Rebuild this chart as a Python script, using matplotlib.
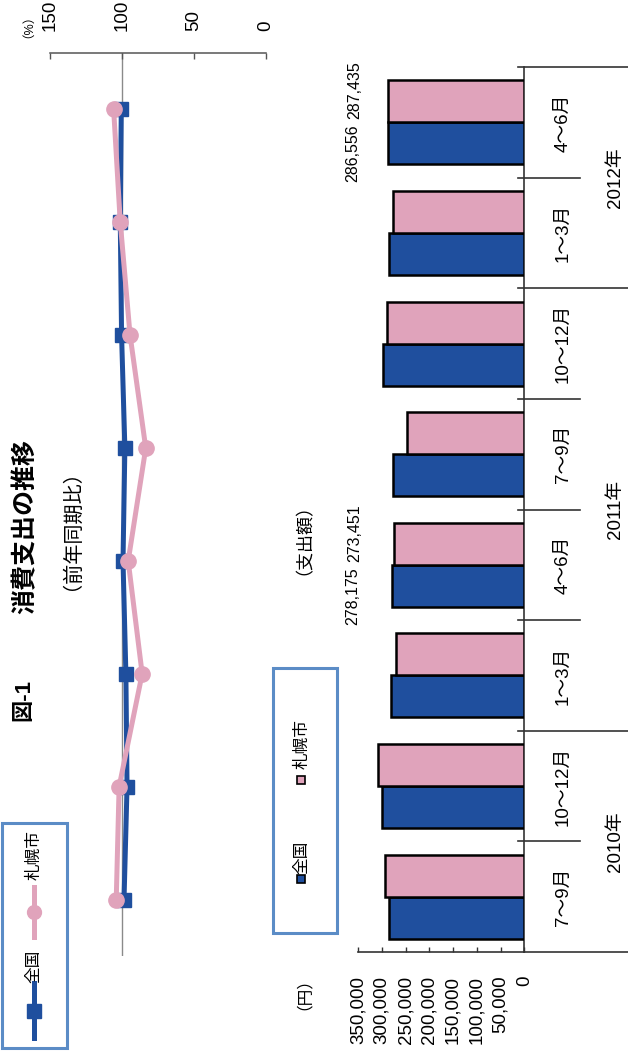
import matplotlib
matplotlib.use('Agg')
import matplotlib.pyplot as plt
import matplotlib.transforms as mtransforms
from matplotlib.lines import Line2D
from matplotlib.patches import Rectangle

plt.rcParams['font.family'] = ['Liberation Sans', 'Noto Sans CJK JP']

# ---------------- data ----------------
periods = ['7〜9月', '10〜12月', '1〜3月', '4〜6月', '7〜9月', '10〜12月', '1〜3月', '4〜6月']
years = ['2010年', '2010年', '2011年', '2011年', '2011年', '2011年', '2012年', '2012年']
nation_yoy = [98.6, 96.5, 97.3, 99.3, 98.0, 100.3, 101.2, 100.5]
sapporo_yoy = [104.0, 102.0, 86.0, 95.7, 83.5, 94.4, 101.2, 105.8]
nation_spend = [283800, 299100, 280200, 278175, 276000, 296400, 284400, 286556]
sapporo_spend = [292800, 307500, 269700, 273451, 246600, 289200, 276000, 287435]
annotated = [3, 7]
yoy_ticks = [0, 50, 100, 150]
spend_ticks = [0, 50000, 100000, 150000, 200000, 250000, 300000, 350000]
series_names = ['全国', '札幌市']

BLUE = '#1f4f9e'
PINK = '#e0a3bb'
LEG_EDGE = '#5b8cc6'

W, H = 628, 1053
fig = plt.figure(figsize=(W / 100, H / 100), dpi=100)
fig.patch.set_facecolor('white')


def rect(x0, y0, x1, y1):
    return [x0 / W, 1 - y1 / H, (x1 - x0) / W, (y1 - y0) / H]


n = len(periods)
idx = list(range(n))

# ---------------- line chart (year-on-year %) ----------------
axl = fig.add_axes(rect(50, 53, 266, 956))
axl.set_xlim(150, 0)
axl.set_ylim(-0.5, n - 0.5)
axl.axvline(100, color='#8a8a8a', lw=1.0, zorder=1)
axl.plot(nation_yoy, idx, color=BLUE, lw=3.6, marker='s', ms=9.5,
         mfc=BLUE, mec=BLUE, zorder=3, solid_capstyle='butt')
axl.plot(sapporo_yoy, idx, color=PINK, lw=3.6, marker='o', ms=11,
         mfc=PINK, mec=PINK, zorder=4)
for s in ['left', 'right', 'bottom']:
    axl.spines[s].set_visible(False)
axl.spines['top'].set_color('#555555')
axl.spines['top'].set_linewidth(1.1)
axl.set_xticks(yoy_ticks)
axl.set_xticklabels([str(t) for t in yoy_ticks])
axl.xaxis.set_ticks_position('top')
axl.xaxis.set_label_position('top')
axl.tick_params(axis='x', direction='in', length=4.3, width=1.0, color='#555555',
                pad=15.5, labelsize=13.5, labelrotation=90, top=True, bottom=False,
                labeltop=True, labelbottom=False)
axl.set_yticks([])
axl.patch.set_alpha(0)

# ---------------- bar chart (spending, yen) ----------------
axb = fig.add_axes(rect(358, 67, 524.3, 952))
axb.set_xlim(350000, 0)
axb.set_ylim(-0.5, n - 0.5)
bh = 0.38
axb.barh([i - bh / 2 for i in idx], nation_spend, height=bh, color=BLUE,
         edgecolor='black', linewidth=1.8, zorder=3)
axb.barh([i + bh / 2 for i in idx], sapporo_spend, height=bh, color=PINK,
         edgecolor='black', linewidth=1.8, zorder=3)
for s in ['left', 'top']:
    axb.spines[s].set_visible(False)
for s in ['right', 'bottom']:
    axb.spines[s].set_color('#333333')
    axb.spines[s].set_linewidth(1.2)
axb.set_xticks(spend_ticks)
axb.set_xticklabels([f'{t:,}' for t in spend_ticks])
axb.tick_params(axis='x', direction='in', length=3.6, width=1.0, color='#333333',
                pad=17, labelsize=13.5, labelrotation=90)
axb.set_yticks([])
axb.patch.set_alpha(0)

trans = mtransforms.blended_transform_factory(axb.transAxes, axb.transData)
fx = lambda px: (px - 358) / (524.3 - 358)

# category table lines
axb.plot([1, fx(628)], [-0.5, -0.5], transform=trans, color='#333333', lw=1.2, clip_on=False)
axb.plot([fx(518), fx(628)], [n - 0.5, n - 0.5], transform=trans, color='#333333', lw=1.2,
         clip_on=False)
for i in range(n - 1):
    b = i + 0.5
    x_end = fx(628) if years[i] != years[i + 1] else fx(580)
    axb.plot([fx(518), x_end], [b, b], transform=trans, color='#333333', lw=1.2, clip_on=False)

# category labels
for i, p in enumerate(periods):
    axb.text(fx(563), i, p, transform=trans, rotation=90, ha='center', va='center',
             fontsize=13.5)
seen = []
for y in years:
    if y not in seen:
        seen.append(y)
for y in seen:
    pos = [i for i, yy in enumerate(years) if yy == y]
    axb.text(fx(615), sum(pos) / len(pos), y, transform=trans, rotation=90,
             ha='center', va='center', fontsize=13.5)

# value annotations
for i in annotated:
    axb.text(fx(353), i - 0.28, f'{nation_spend[i]:,}', transform=trans, rotation=90,
             ha='center', va='center', fontsize=11.5)
    axb.text(fx(355), i + 0.29, f'{sapporo_spend[i]:,}', transform=trans, rotation=90,
             ha='center', va='center', fontsize=11.5)

# ---------------- overlay for titles and legends ----------------
ov = fig.add_axes([0, 0, 1, 1])
ov.set_xlim(0, W)
ov.set_ylim(H, 0)
ov.axis('off')
ov.patch.set_alpha(0)

ov.text(24, 700, '図-1', rotation=90, ha='center', va='center', fontsize=16, fontweight='bold')
ov.text(25, 527, '消費支出の推移', rotation=90, ha='center', va='center', fontsize=18,
        fontweight='bold')
ov.text(61, 520, '（前年同期比）', rotation=90, ha='center', va='center', fontsize=14.5)
ov.text(22, 20, '（%）', rotation=90, ha='center', va='center', fontsize=9)
ov.text(295, 530, '（支出額）', rotation=90, ha='center', va='center', fontsize=13)
ov.text(295, 985, '（円）', rotation=90, ha='center', va='center', fontsize=12)

# legend 1 (lines)
ov.add_patch(Rectangle((2, 823), 65, 225, fill=False, edgecolor=LEG_EDGE, lw=2.2))
ov.add_line(Line2D([34, 34], [983, 1038], color=BLUE, lw=3.6))
ov.add_line(Line2D([34], [1011], color=BLUE, marker='s', ms=9.5))
ov.text(34, 966, series_names[0], rotation=90, ha='center', va='center', fontsize=12)
ov.add_line(Line2D([34, 34], [887, 937], color=PINK, lw=3.6))
ov.add_line(Line2D([34], [912], color=PINK, marker='o', ms=10))
ov.text(34, 855, series_names[1], rotation=90, ha='center', va='center', fontsize=12)

# legend 2 (bars)
ov.add_patch(Rectangle((273, 668), 64, 265, fill=False, edgecolor=LEG_EDGE, lw=2.2))
ov.add_line(Line2D([301], [879], marker='s', ms=6, mfc=BLUE, mec='black', mew=1.2))
ov.text(302, 857, series_names[0], rotation=90, ha='center', va='center', fontsize=12)
ov.add_line(Line2D([301], [780], marker='s', ms=6, mfc=PINK, mec='black', mew=1.2))
ov.text(302, 744, series_names[1], rotation=90, ha='center', va='center', fontsize=12)

fig.savefig('out.png', dpi=100)
